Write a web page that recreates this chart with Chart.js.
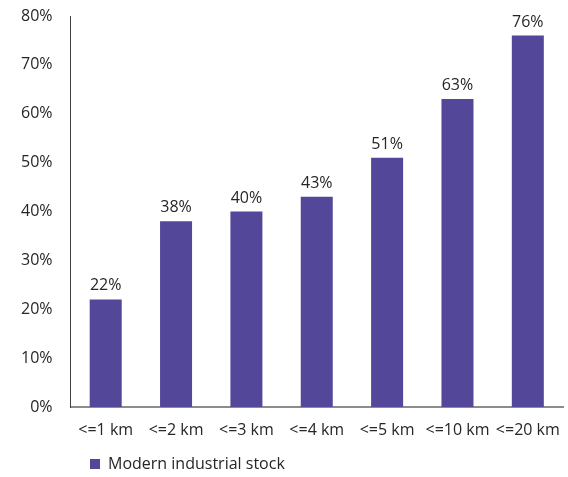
<!DOCTYPE html>
<html>
<head>
<meta charset="utf-8">
<script src="https://cdn.jsdelivr.net/npm/chart.js@4"></script>
<style>
  html, body { margin: 0; padding: 0; background: #fff; }
  #wrap { width: 568px; height: 477px; }
</style>
</head>
<body>
<div id="wrap"><canvas id="myChart" width="568" height="477"></canvas></div>
<script>
// datos del grafico
const categorias = ["<=1 km", "<=2 km", "<=3 km", "<=4 km", "<=5 km", "<=10 km", "<=20 km"];
const valores = [22, 38, 40, 43, 51, 63, 76];
const nombreSerie = "Modern industrial stock";
const ticksY = [0, 10, 20, 30, 40, 50, 60, 70, 80];

const colorBarra = "rgb(83, 71, 154)";
const colorTexto = "#262626";
const colorEjeX = "#8c8c8c";
const colorEjeY = "#404040";
const fuente = "'Open Sans'";

// etiquetas encima de cada barra
const etiquetasPlugin = {
  id: "etiquetas",
  afterLayout(chart) {
    // la leyenda va un poco mas a la derecha, como en el original
    chart.legend.left += 7.5;
  },
  afterDatasetsDraw(chart) {
    const ctx = chart.ctx;
    const meta = chart.getDatasetMeta(0);
    ctx.save();
    ctx.font = "16px " + fuente;
    ctx.fillStyle = colorTexto;
    ctx.textAlign = "center";
    ctx.textBaseline = "alphabetic";
    meta.data.forEach((bar, i) => {
      ctx.fillText(valores[i] + "%", bar.x, bar.y - 9);
    });
    ctx.restore();
  }
};

const config = {
  type: "bar",
  data: {
    labels: categorias,
    datasets: [{
      label: nombreSerie,
      data: valores,
      backgroundColor: colorBarra,
      categoryPercentage: 1,
      barPercentage: 0.455
    }]
  },
  options: {
    responsive: false,
    animation: false,
    layout: { padding: { top: 16, right: 5, left: 7, bottom: -5 } },
    plugins: {
      legend: {
        position: "bottom",
        align: "start",
        fullSize: false,
        labels: {
          boxWidth: 10,
          boxHeight: 10,
          color: colorTexto,
          font: { family: fuente, size: 16 },
          padding: 12
        }
      },
      tooltip: { enabled: false }
    },
    scales: {
      x: {
        grid: { display: false, drawTicks: false },
        border: { color: colorEjeX, width: 2 },
        ticks: {
          color: colorTexto,
          font: { family: fuente, size: 16 },
          padding: 14,
          maxRotation: 0,
          autoSkip: false
        },
        afterFit: (scale) => {
          scale.height = 37;
          scale.paddingLeft = 0;
          scale.paddingRight = 0;
        }
      },
      y: {
        min: 0,
        max: 80,
        afterBuildTicks: (axis) => { axis.ticks = ticksY.map(v => ({ value: v })); },
        grid: { display: false, drawOnChartArea: false, drawTicks: true, tickLength: 4, color: colorEjeY },
        border: { color: colorEjeY, width: 1 },
        ticks: {
          color: colorTexto,
          font: { family: fuente, size: 16 },
          padding: 14,
          callback: (v) => v + "%"
        },
        afterFit: (scale) => {
          scale.paddingTop = 0;
          scale.paddingBottom = 0;
        }
      }
    }
  },
  plugins: [etiquetasPlugin]
};

const myChart = new Chart(document.getElementById("myChart"), config);
</script>
</body>
</html>
